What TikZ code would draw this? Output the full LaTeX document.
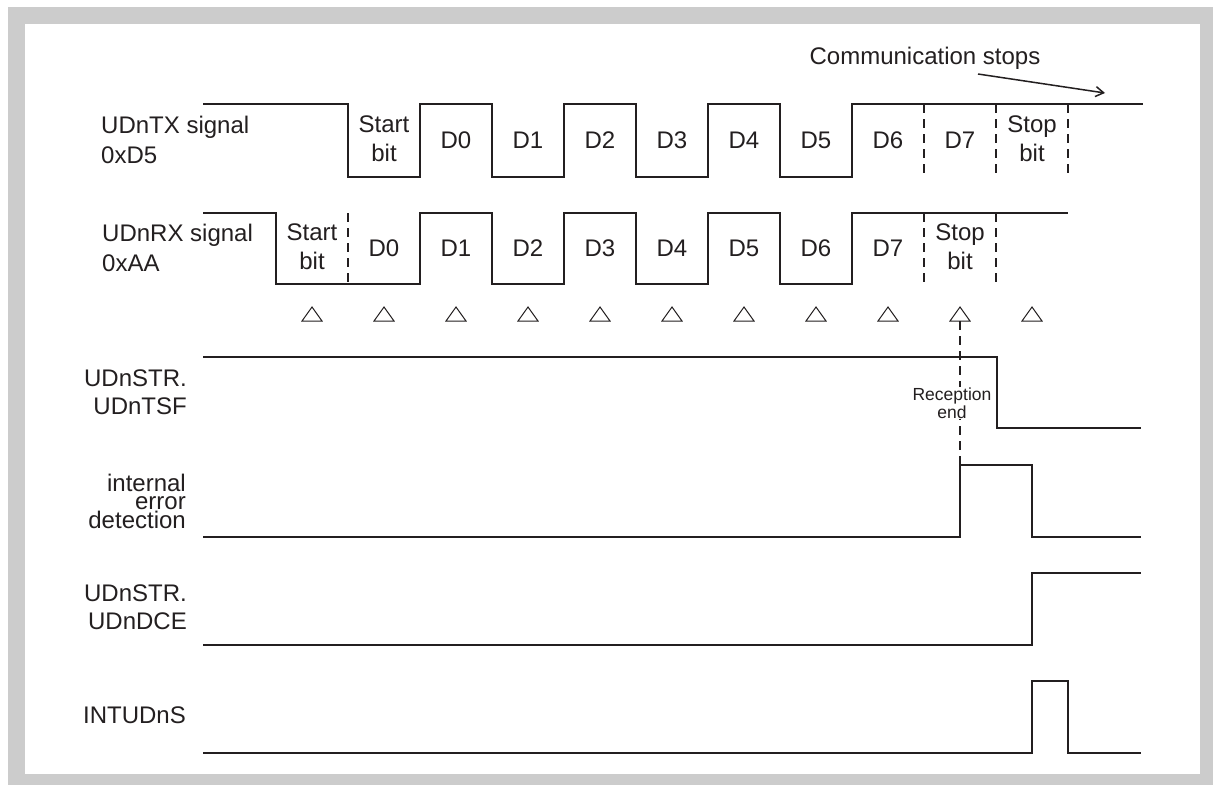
\documentclass[tikz,border=0pt]{standalone}
\usepackage{fontspec}
\setmainfont{Liberation Sans}
\usetikzlibrary{arrows.meta}
\definecolor{framegray}{HTML}{CCCCCC}
\definecolor{ink}{HTML}{231F20}
\tikzset{
  sig/.style={line width=1.9pt, draw=ink, line join=miter},
  dsh/.style={line width=1.6pt, draw=ink, dash pattern=on 9pt off 6pt},
  tri/.style={line width=1pt, draw=ink},
  lbl/.style={font=\fontsize{24}{30}\selectfont, text=ink, inner sep=0pt, align=left, anchor=west},
  rlbl/.style={font=\fontsize{24}{28}\selectfont, text=ink, inner sep=0pt, align=right, anchor=east},
  bitlbl/.style={font=\fontsize{24}{29}\selectfont, text=ink, inner sep=0pt, align=center},
  small/.style={font=\fontsize{17.5}{18}\selectfont, text=ink, inner sep=1pt, align=center, fill=white}
}
\begin{document}
\begin{tikzpicture}[x=1pt,y=-1pt]
\useasboundingbox (0,0) rectangle (1213,785);
\fill[framegray] (8,7) rectangle (1213,785);
\fill[white] (25,24) rectangle (1200,774);

% --- labels on the left
\node[lbl] (txl) at (101,140) {UDnTX signal\\0xD5};
\node[lbl] (rxl) at (102,248) {UDnRX signal\\0xAA};
\node[rlbl] (tsfl) at (187,392) {UDnSTR.\\UDnTSF};
\node[rlbl, font=\fontsize{24}{18.5}\selectfont] (errl) at (186,501) {internal\\error\\detection};
\node[rlbl] (dcel) at (187,607) {UDnSTR.\\UDnDCE};
\node[rlbl] (intl) at (186,715) {INTUDnS};

% --- TX waveform
\draw[sig] (203,104) -- (348,104) -- (348,177) -- (420,177) -- (420,104) -- (492,104) -- (492,177)
  -- (564,177) -- (564,104) -- (636,104) -- (636,177) -- (708,177) -- (708,104) -- (780,104)
  -- (780,177) -- (852,177) -- (852,104) -- (1143,104);
\foreach \x in {924,996,1068} \draw[dsh] (\x,104) -- (\x,177);
\node[bitlbl] (txs) at (384,139) {Start\\bit};
\foreach \t [count=\i from 0] in {D0,D1,D2,D3,D4,D5,D6,D7}
  \node[bitlbl] (tx\t) at (456+72*\i,140) {\t};
\node[bitlbl] (txp) at (1032,139) {Stop\\bit};

% --- RX waveform
\draw[sig] (203,213) -- (276,213) -- (276,284) -- (420,284) -- (420,213) -- (492,213) -- (492,284)
  -- (564,284) -- (564,213) -- (636,213) -- (636,284) -- (708,284) -- (708,213) -- (780,213)
  -- (780,284) -- (852,284) -- (852,213) -- (1068,213);
\foreach \x in {348,924,996} \draw[dsh] (\x,213) -- (\x,284);
\node[bitlbl] (rxs) at (312,247) {Start\\bit};
\foreach \t [count=\i from 0] in {D0,D1,D2,D3,D4,D5,D6,D7}
  \node[bitlbl] (rx\t) at (384+72*\i,248) {\t};
\node[bitlbl] (rxp) at (960,247) {Stop\\bit};

% --- sampling triangles
\foreach \k in {0,...,10}
  \draw[tri] (312+72*\k-10,321) -- (312+72*\k,307) -- (312+72*\k+10,321) -- cycle;

% --- communication stops
\node[bitlbl] (cs) at (925,58) {Communication stops};
\coordinate (csa) at (978,74);
\coordinate (csb) at (1105,93);
\draw[line width=1.5pt, draw=ink, -{Straight Barb[length=8pt,width=10pt,line width=1.5pt]}] (csa) -- (csb);

% --- reception end
\coordinate (re1) at (960,321);
\coordinate (re2) at (960,465);
\draw[dsh] (re1) -- (re2);
\node[small] (rec) at (952,403) {Reception\\end};

% --- lower waveforms
\draw[sig] (203,357) -- (997,357) -- (997,428) -- (1141,428);
\draw[sig] (203,537) -- (960,537) -- (960,465) -- (1032,465) -- (1032,537) -- (1141,537);
\draw[sig] (203,645) -- (1032,645) -- (1032,573) -- (1141,573);
\draw[sig] (203,753) -- (1032,753) -- (1032,681) -- (1068,681) -- (1068,753) -- (1141,753);
\end{tikzpicture}
\end{document}
